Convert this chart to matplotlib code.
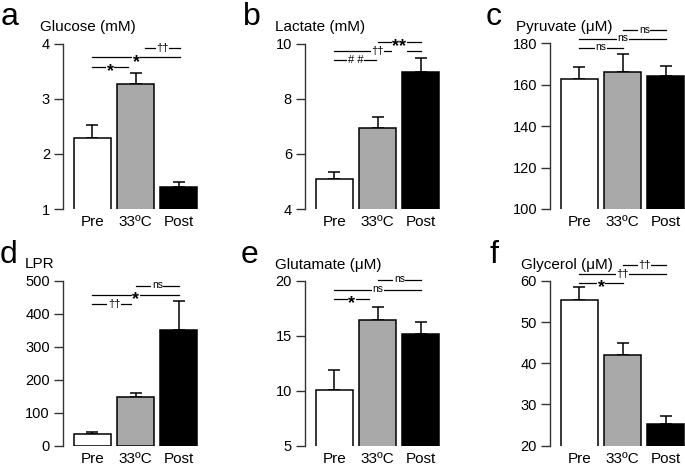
import numpy as np
import matplotlib
matplotlib.use("Agg")
import matplotlib.pyplot as plt
from matplotlib.transforms import offset_copy

plt.rcParams['font.family'] = ['Liberation Sans', 'DejaVu Sans']

# Data
groups = ["Pre", "33ºC", "Post"]
bar_colors = ["white", "#a9a9a9", "black"]

glucose_mean = [2.29, 3.26, 1.39]
glucose_err = [0.24, 0.20, 0.10]

lactate_mean = [5.08, 6.95, 8.98]
lactate_err = [0.26, 0.38, 0.48]

pyruvate_mean = [162.6, 166.0, 164.4]
pyruvate_err = [6.1, 9.0, 4.8]

lpr_mean = [35, 147, 352]
lpr_err = [7, 13, 86]

glutamate_mean = [10.07, 16.48, 15.21]
glutamate_err = [1.83, 1.19, 1.06]

glycerol_mean = [55.5, 42.1, 25.2]
glycerol_err = [3.1, 2.9, 2.0]

# significance brackets: (start, end, y, label)
glucose_sig = [(0, 0.82, 3.58, "*"), (0, 2.03, 3.75, "*"), (1.22, 2.03, 3.91, "††")]
lactate_sig = [(0, 0.97, 9.39, "# #"), (0, 2.0, 9.73, "††"), (1.0, 2.0, 10.06, "**")]
pyruvate_sig = [(0, 1.0, 177.9, "ns"), (0, 2.0, 182.2, "ns"), (1.0, 2.0, 186.4, "ns")]
lpr_sig = [(0, 1.0, 430, "††"), (0, 2.0, 457, "*"), (1.0, 2.0, 485, "ns")]
glutamate_sig = [(0, 0.8, 18.36, "*"), (0, 2.0, 19.18, "ns"), (1.0, 2.0, 20.09, "ns")]
glycerol_sig = [(0, 1.0, 59.6, "*"), (0, 2.0, 61.8, "††"), (1.0, 2.0, 64.0, "††")]

panels = [
    ("a", "Glucose (mM)", glucose_mean, glucose_err, (1, 4), [1, 2, 3, 4], glucose_sig),
    ("b", "Lactate (mM)", lactate_mean, lactate_err, (4, 10), [4, 6, 8, 10], lactate_sig),
    ("c", "Pyruvate (μM)", pyruvate_mean, pyruvate_err, (100, 180), [100, 120, 140, 160, 180], pyruvate_sig),
    ("d", "LPR", lpr_mean, lpr_err, (0, 500), [0, 100, 200, 300, 400, 500], lpr_sig),
    ("e", "Glutamate (μM)", glutamate_mean, glutamate_err, (5, 20), [5, 10, 15, 20], glutamate_sig),
    ("f", "Glycerol (μM)", glycerol_mean, glycerol_err, (20, 60), [20, 30, 40, 50, 60], glycerol_sig),
]

W, H = 685, 466
fig = plt.figure(figsize=(6.85, 4.66), dpi=100)

# layout in pixels
spine_x = [62.5, 304.5, 549.5]
rows = [(43.5, 209), (281, 445.5)]
letter_pos = [(1, 25), (243, 25), (486, 25), (0, 263), (241, 263), (489, 263)]
label_pos = [(40, 31), (275, 31), (516, 31), (25, 268), (275, 269.5), (521, 269.5)]
unit = 43.3
xl = (-0.69, 2.55)

for i, (letter, title, mean, err, ylim, yticks, sig) in enumerate(panels):
    r, c = divmod(i, 3)
    top, bot = rows[r]
    width_px = (xl[1] - xl[0]) * unit
    ax = fig.add_axes([spine_x[c] / W, 1 - bot / H, width_px / W, (bot - top) / H])
    x = np.arange(len(groups))
    ax.bar(x, mean, width=0.855, bottom=0, color=bar_colors, edgecolor="black",
           linewidth=1.1, zorder=2)
    ax.errorbar(x, mean, yerr=[np.zeros(3), err], fmt="none", ecolor="black",
                elinewidth=1.1, capsize=4.5, capthick=1.1, zorder=1)
    ax.set_ylim(ylim)
    ax.set_xlim(xl)
    ax.set_yticks(yticks)
    ax.set_xticks(x)
    ax.set_xticklabels(groups, fontsize=11)
    ax.tick_params(axis="x", length=0, pad=4.5)
    ax.tick_params(axis="y", length=6.5, width=1.0, pad=2.5, labelsize=10.5, color="#333333")
    for s in ["top", "right", "bottom"]:
        ax.spines[s].set_visible(False)
    ax.spines["left"].set_linewidth(1.0)
    ax.spines["left"].set_color("#333333")

    for x0, x1, yy, lab in sig:
        ax.plot([x0, x1], [yy, yy], color="black", lw=0.9, clip_on=False, zorder=3)
        if lab in ("*", "**"):
            fs, dy, weight = 13, -3.5, "bold"
        elif lab == "ns":
            fs, dy, weight = 7.5, 0.5, "normal"
        else:
            fs, dy, weight = 8, 0, "normal"
        tr = offset_copy(ax.transData, fig=fig, x=0, y=dy, units="points")
        ax.text((x0 + x1) / 2, yy, lab, ha="center", va="center", fontsize=fs,
                fontweight=weight, clip_on=False, zorder=4, transform=tr,
                bbox=dict(facecolor="white", edgecolor="none", pad=0.3))

    lx, ly = letter_pos[i]
    fig.text(lx / W, 1 - ly / H, letter, fontsize=23, ha="left", va="baseline")
    tx, ty = label_pos[i]
    fig.text(tx / W, 1 - ty / H, title, fontsize=11, ha="left", va="baseline")

fig.savefig("out.png", dpi=100)
